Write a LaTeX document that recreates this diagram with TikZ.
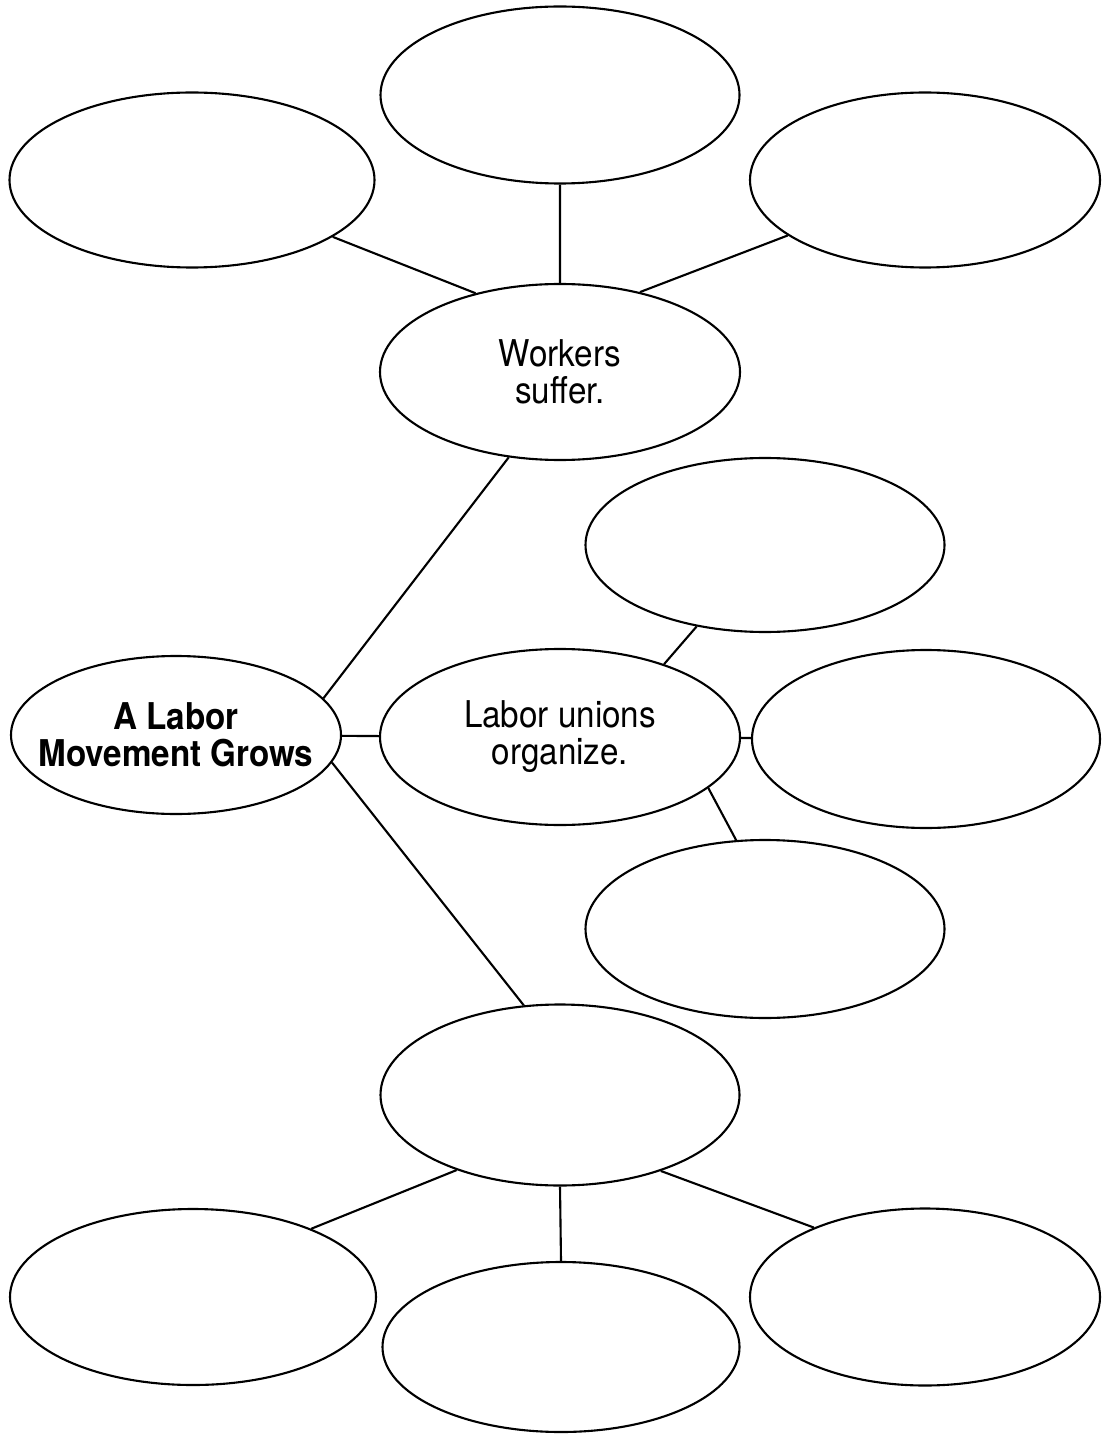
\documentclass[tikz,border=0pt]{standalone}
\usepackage{fontspec}
\usetikzlibrary{shapes.geometric}
\newfontfamily\mapfont{TeX Gyre Heros}[FakeStretch=0.9]

\begin{document}
\begin{tikzpicture}[line width=0.6pt, inner sep=0pt,
    oval/.style 2 args={ellipse, draw, minimum width=#1cm, minimum height=#2cm},
    font=\mapfont\fontsize{10.5}{10.5}\selectfont, align=center]
  \useasboundingbox (0,0) rectangle (11.04,-14.35);
  \path node (tc)  at (5.60, -0.95) [oval={3.59}{1.77}] {}
        node (tl)  at (1.92, -1.80) [oval={3.65}{1.75}] {}
        node (tr)  at (9.25, -1.80) [oval={3.50}{1.75}] {}
        node (ws)  at (5.60, -3.72) [oval={3.60}{1.76}] {Workers\\suffer.}
        %
        node (u1)  at (7.65, -5.45) [oval={3.59}{1.74}] {}
        node (hub) at (1.76, -7.35) [oval={3.30}{1.58}, inner xsep=-8pt, font=\mapfont\bfseries\fontsize{10.5}{10.5}\selectfont] {A Labor\\Movement Grows}
        node (lu)  at (5.60, -7.37) [oval={3.60}{1.76}] {Labor unions\\organize.}
        node (u2)  at (9.26, -7.39) [oval={3.48}{1.78}] {}
        node (u3)  at (7.65, -9.29) [oval={3.59}{1.78}] {}
        %
        node (bc)  at (5.60,-10.95) [oval={3.59}{1.81}] {}
        node (bl)  at (1.93,-12.97) [oval={3.66}{1.76}] {}
        node (bm)  at (5.61,-13.47) [oval={3.57}{1.70}] {}
        node (br)  at (9.25,-12.97) [oval={3.50}{1.77}] {};
  \draw (tl.-22)   -- (ws.137)
        (tc.south) -- (ws.north)
        (tr.-158)  -- (ws.45)
        %
        (hub.14)   -- (ws.-121)
        (hub)      -- (lu)
        (hub.-10)  -- (bc.112)
        %
        (lu.35)    -- (u1.-130)
        (lu)       -- (u2)
        (lu.-19)   -- (u3.108)
        %
        (bc.-144)  -- (bl.30)
        (bc.south) -- (bm.north)
        (bc.-37)   -- (br.148);
\end{tikzpicture}
\end{document}
